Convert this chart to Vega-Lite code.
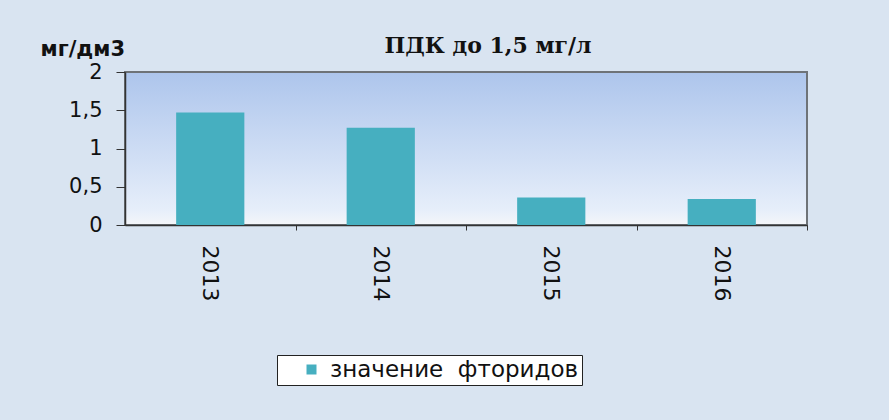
{
  "$schema": "https://vega.github.io/schema/vega-lite/v6.json",
  "width": 682,
  "height": 153,
  "autosize": {"type": "none"},
  "padding": {"left": 125, "top": 72, "right": 82, "bottom": 195},
  "background": "#d9e4f1",
  "config": {
    "locale": {"number": {"decimal": ",", "thousands": " ", "grouping": [3], "currency": ["", ""]}},
    "view": {
      "stroke": "#6e7378",
      "strokeWidth": 2,
      "fill": {"gradient": "linear", "x1": 0, "y1": 0, "x2": 0, "y2": 1,
        "stops": [{"offset": 0, "color": "#adc5ec"}, {"offset": 0.9, "color": "#e6eefa"}, {"offset": 1, "color": "#f4f6f9"}]}
    },
    "font": "DejaVu Sans"
  },
  "title": {
    "text": "ПДК до 1,5 мг/л",
    "font": "DejaVu Serif",
    "fontWeight": "bold",
    "fontSize": 22,
    "color": "#111111",
    "anchor": "middle",
    "frame": "group",
    "dx": 22,
    "offset": -20
  },
  "data": {
    "values": [
      {"year": "2013", "value": 1.47, "series": "значение  фторидов"},
      {"year": "2014", "value": 1.27, "series": "значение  фторидов"},
      {"year": "2015", "value": 0.36, "series": "значение  фторидов"},
      {"year": "2016", "value": 0.34, "series": "значение  фторидов"}
    ]
  },
  "mark": {"type": "bar"},
  "encoding": {
    "x": {
      "field": "year",
      "type": "nominal",
      "scale": {"paddingInner": 0.6, "paddingOuter": 0.3},
      "axis": {
        "title": null,
        "labelAngle": 90,
        "labelAlign": "left",
        "labelBaseline": "middle",
        "labelFontSize": 22,
        "labelColor": "#111111",
        "labelPadding": 15,
        "tickSize": 5,
        "tickColor": "#333333",
        "domainColor": "#333333",
        "domainWidth": 1.5,
        "bandPosition": 1.76,
        "grid": false
      }
    },
    "y": {
      "field": "value",
      "type": "quantitative",
      "scale": {"domain": [0, 2]},
      "axis": {
        "title": "мг/дм3",
        "titleAngle": 0,
        "titleAlign": "left",
        "titleBaseline": "alphabetic",
        "titleX": -85,
        "titleY": -17,
        "titleFontSize": 21,
        "titleFontWeight": "bold",
        "titleColor": "#111111",
        "values": [0, 0.5, 1, 1.5, 2],
        "format": ".1~f",
        "labelFontSize": 21,
        "labelColor": "#111111",
        "labelPadding": 14,
        "tickSize": 9,
        "tickColor": "#333333",
        "domainColor": "#333333",
        "domainWidth": 1.5,
        "grid": false
      }
    },
    "color": {
      "field": "series",
      "type": "nominal",
      "scale": {"range": ["#46afc0"]},
      "legend": {
        "title": null,
        "orient": "none",
        "legendX": 152,
        "legendY": 283,
        "symbolType": "square",
        "symbolSize": 100,
        "symbolStrokeWidth": 0,
        "symbolOffset": 20,
        "labelOffset": 7,
        "labelExpr": "replace(datum.label, '  ', '\u00a0\u00a0')",
        "labelFontSize": 23,
        "labelColor": "#111111",
        "strokeColor": "#222222",
        "fillColor": "#ffffff",
        "padding": 3,
        "labelLimit": 400
      }
    }
  }
}
